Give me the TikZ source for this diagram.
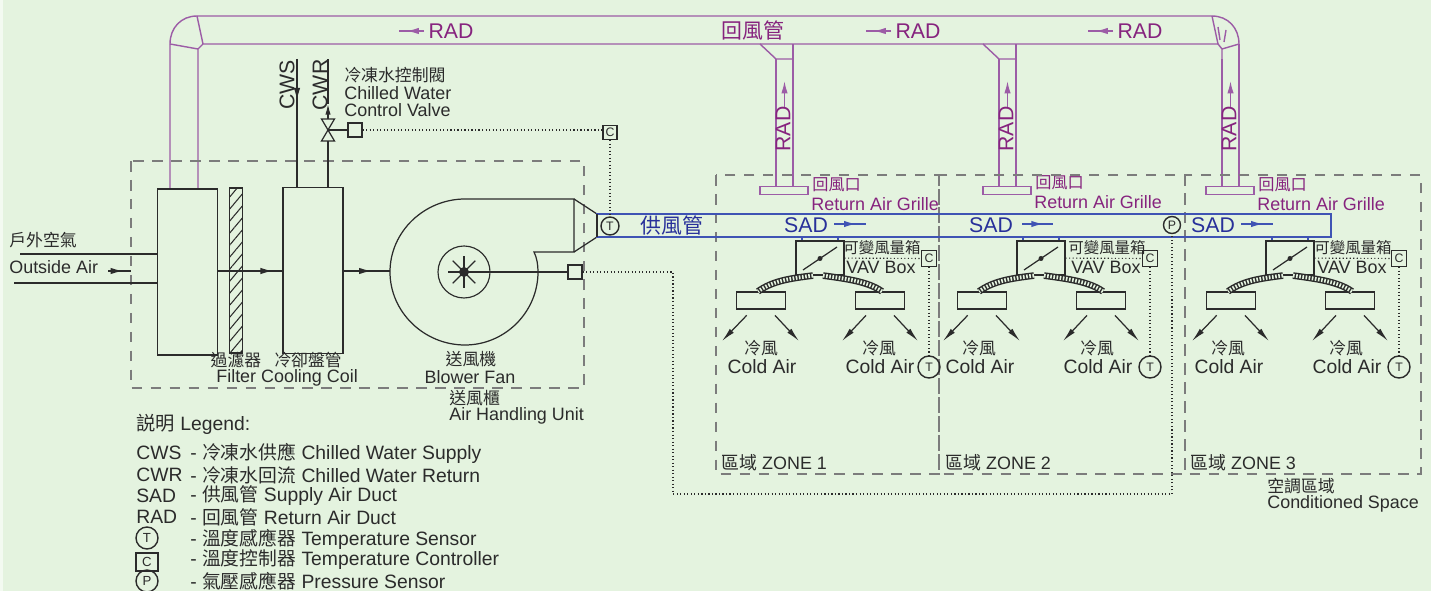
\documentclass[tikz,border=0pt]{standalone}
\usepackage{xcolor}
\usepackage{fontspec}
\setmainfont{Liberation Sans}
\newfontfamily\cjk{Noto Sans CJK TC}
\usetikzlibrary{arrows.meta,decorations.markings,patterns.meta}
\definecolor{panel}{HTML}{E4F3DF}
\definecolor{ink}{HTML}{2B2B2B}
\definecolor{zoneline}{HTML}{7C7C7C}
\definecolor{radline}{HTML}{9C5CA6}
\definecolor{radtext}{HTML}{86237E}
\definecolor{sadline}{HTML}{3F53B4}
\definecolor{sadtext}{HTML}{28309A}
\def\u{0.02cm}
\tikzset{
  every node/.style={inner sep=0pt,text=ink},
  small/.style={font=\fontsize{10.2}{12}\selectfont},
  mid/.style={font=\fontsize{11}{13}\selectfont},
  big/.style={font=\fontsize{12.1}{14}\selectfont},
  zhsmall/.style={font=\fontsize{9.6}{12}\selectfont\cjk},
  zhtiny/.style={font=\fontsize{8.8}{11}\selectfont\cjk},
  zhbig/.style={font=\fontsize{11.9}{14}\selectfont\cjk},
  tag/.style={font=\fontsize{7}{8}\selectfont},
  unit/.style={draw=ink,line width=0.65pt,minimum width=#1},
  sensor/.style={draw=ink,circle,line width=0.8pt,minimum size=#1},
  sq/.style={draw=ink,line width=0.6pt,minimum size=14*\u},
  zonebox/.style={draw=zoneline,line width=0.6pt,dash pattern=on 6pt off 4.8pt},
  radduct/.style={draw=radline,line width=0.8pt},
  sadduct/.style={draw=sadline,line width=0.9pt},
  signal/.style={draw=ink,line width=0.65pt,dash pattern=on 0.65pt off 1.35pt},
  pipe/.style={draw=ink,line width=0.7pt},
  hose/.style={preaction={draw=ink,line width=3.8pt},draw=panel,line width=2.2pt,dash pattern=on 0.9pt off 0.9pt},
  airout/.style={draw=ink,line width=0.7pt,-{Latex[length=8pt,width=3.2pt]},shorten <=8*\u},
  midtip/.style={decoration={markings,mark=at position #1 with {\arrow{Latex[length=7pt,width=3.6pt]}}},postaction=decorate},
}
\begin{document}
\begin{tikzpicture}[x=\u,y=-\u]
        \useasboundingbox (0,0) rectangle (1431,591);
        \fill[white!55!panel] (0,0) rectangle (1431,591);
        \fill[panel] (3,0) rectangle (1431,591);

        % return duct
        \draw[radduct] (170,189) -- (170,44) .. controls (170,28) and (181,16) .. (197,16) -- (1212,16)
          .. controls (1228,16) and (1239,28) .. (1239,44) -- (1239,187);
        \draw[radduct] (198,189) -- (198,49) -- (203,44) -- (1218,44) -- (1222,49) -- (1222,187);
        \draw[radduct] (197,16) -- (203,44) (198,49) -- (170,44);
        \draw[radduct] (1212,16) -- (1218,44) (1222,49) -- (1239,44);
        \draw[radduct] (1218,27) -- (1220,40) (1226,30) -- (1224,42);

        \begin{scope}[every node/.append style={big,text=radtext}]
          \node (rada) at (451,31) {RAD};
          \node (radb) at (918,31) {RAD};
          \node (radc) at (1140,31) {RAD};
          \node[zhbig] (radname) at (753,30) {回風管};
        \end{scope}
        \coordinate (ra1) at (424,31); \coordinate (ra2) at (399,31);
        \coordinate (rb1) at (891,31); \coordinate (rb2) at (866,31);
        \coordinate (rc1) at (1113,31); \coordinate (rc2) at (1088,31);
        \draw[draw=radline,line width=0.8pt,midtip=0.7] (ra1) -- (ra2);
        \draw[draw=radline,line width=0.8pt,midtip=0.7] (rb1) -- (rb2);
        \draw[draw=radline,line width=0.8pt,midtip=0.7] (rc1) -- (rc2);

        \foreach \z/\dx/\dy in {1/0/0,2/223/-2,3/446/0} {
          \begin{scope}[shift={(\dx,0)}]
            \node[draw=radline,line width=0.8pt,minimum width=48*\u,minimum height=8*\u] (grille\z) at (784,190.5) {};
            \draw[radduct] (776,186.5) -- (776,59) (793,186.5) -- (793,44);
            \node[big,text=radtext,rotate=90] (radup\z) at (783,129) {RAD};
            \coordinate (up\z a) at (784.5,107); \coordinate (up\z b) at (784.5,81);
            \draw[draw=radline,line width=0.8pt,-{Latex[length=7pt,width=3.6pt]}] (up\z a) -- (up\z b);
            \node[zhtiny,anchor=west,text=radtext,font=\fontsize{9.2}{12}\selectfont\cjk] (gzh\z) at (812,{185+\dy}) {回風口};
            \node[small,anchor=west,text=radtext] (gen\z) at (811,{204+\dy}) {Return Air Grille};
          \end{scope}
        }
        % take-offs
        \draw[radduct] (760,44) -- (776,59) -- (793,59);
        \draw[radduct] (983,44) -- (999,59) -- (1016,59);

        % zones and air handling unit frames
        \draw[zonebox] (131,161) rectangle (584,388);
        \draw[zonebox] (716,175) rectangle (939,474);
        \draw[zonebox] (939,175) rectangle (1185,474);
        \draw[zonebox] (1185,175) rectangle (1421,474);

        % air handling unit
        \begin{scope}[every node/.append style={unit=60*\u,minimum height=166*\u}]
          \node (mixbox) at (187.5,272) {};
          \node (coil) at (313,270.5) {};
        \end{scope}
        \node[draw=ink,line width=0.65pt,minimum width=13*\u,minimum height=165*\u,pattern={Lines[angle=50,distance=4.4pt,line width=0.6pt]},pattern color=ink] (filter) at (236,270.5) {};

        \coordinate (oa1) at (20,254); \coordinate (oa2) at (14,283);
        \coordinate (oa3) at (108,271); \coordinate (oa4) at (131,271);
        \draw[pipe] (oa1) -- (oa1-|mixbox.west);
        \draw[pipe] (oa2) -- (oa2-|mixbox.west);
        \draw[pipe,midtip=0.65] (oa3) -- (oa4);
        \draw[pipe,midtip=0.85] (mixbox.east|-0,271) -- (coil.west|-0,271);
        \coordinate (fanin) at (390,271);
        \draw[pipe,midtip=0.6] (coil.east|-fanin) -- (fanin);

        \coordinate (cwstop) at (297,59); \coordinate (cwrtop) at (328,59);
        \coordinate (cwsfoot) at (297,188); \coordinate (cwrfoot) at (328,188);
        \coordinate (valvetop) at (328,119); \coordinate (valvefoot) at (328,141);
        \draw[pipe,midtip=0.32] (cwstop) -- (cwsfoot);
        \draw[pipe,-{Latex[length=6pt,width=3pt]}] (valvetop) -- (328,104);
        \draw[pipe] (328,104) -- (cwrtop);
        \draw[pipe] (valvefoot) -- (cwrfoot);
        \draw[pipe] (321.5,119) -- (334.5,119) -- (321.5,141) -- (334.5,141) -- cycle;
        \node[sq] (valvesq) at (355,130) {};
        \draw[pipe] (328,130) -- (valvesq);
        \node[rotate=90,big] (cws) at (287,85) {CWS};
        \node[rotate=90,big] (cwr) at (320,85) {CWR};

        \draw[pipe] (574,199) -- (465,199) .. controls (425,199) and (390,231) .. (390,272)
          .. controls (390,312) and (424,345) .. (465,345) .. controls (505,345) and (538,312) .. (538,272)
          .. controls (538,265) and (537,258) .. (534,252) -- (574,252) -- cycle;
        \draw[pipe] (574,199) -- (597,214) (597,237) -- (574,252);
        \node[sensor=52*\u,line width=0.65pt] (wheel) at (464,272) {};
        \node[circle,fill=ink,minimum size=10*\u] (hub) at (464,272) {};
        \foreach \a in {0,45,...,315}
          \draw[pipe] (hub.center) -- ++(\a:16);
        \node[sq] (fansq) at (575,272) {};
        \draw[pipe] (hub) -- (fansq);

        % supply duct
        \node[sadduct,minimum width=734*\u,minimum height=23*\u] (sad) at (964,225.5) {};
        \draw[pipe] (597,214) -- (597,237);
        \node[sensor=18*\u,tag] (tsup) at (610,226) {T};
        \node[sensor=17*\u,tag] (psens) at (1172,225) {P};
        \begin{scope}[every node/.append style={big,text=sadtext}]
          \node[zhbig] (sadname) at (672,225) {供風管};
          \node (sada) at (806,225) {SAD};
          \node (sadb) at (991,225) {SAD};
          \node (sadc) at (1213,225) {SAD};
        \end{scope}
        \coordinate (sa1) at (834,224); \coordinate (sa2) at (866,224);
        \coordinate (sb1) at (1022,224); \coordinate (sb2) at (1053,224);
        \coordinate (sc1) at (1241,224); \coordinate (sc2) at (1273,224);
        \draw[draw=sadline,line width=0.9pt,midtip=0.7] (sa1) -- (sa2);
        \draw[draw=sadline,line width=0.9pt,midtip=0.7] (sb1) -- (sb2);
        \draw[draw=sadline,line width=0.9pt,midtip=0.7] (sc1) -- (sc2);

        % one zone
        \foreach \z/\dx/\tx/\vx in {1/0/0/0,2/221/-3/4,3/470/-3/1} {
          \begin{scope}[shift={(\dx,0)}]
            \draw[sadduct] (802,237) -- (802,241) (838,237) -- (838,241);
            \node[unit=48*\u,minimum height=34*\u] (vav\z) at (820,258) {};
            \coordinate (blade\z a) at (803,270); \coordinate (blade\z b) at (837,247);
            \draw[pipe] (blade\z a) -- (blade\z b);
            \node[circle,fill=ink,minimum size=5*\u] (bladepin\z) at (820,258.5) {};
            \node[unit=49*\u,minimum height=17*\u] (dl\z) at (761,300.5) {};
            \node[unit=49*\u,minimum height=17*\u] (dr\z) at (880,300.5) {};
            \draw[hose] ([xshift=-7*\u]vav\z.south) .. controls +(-25,3) and +(14,-10) .. ([xshift=-3*\u]dl\z.north);
            \draw[hose] ([xshift=3*\u]vav\z.south) .. controls +(22,3) and +(-14,-10) .. ([xshift=2*\u]dr\z.north);
            \coordinate (ta\z) at (722,341); \coordinate (tb\z) at (799,341);
            \coordinate (tc\z) at (842,341); \coordinate (td\z) at (918,341);
            \draw[airout] (dl\z) -- (ta\z);
            \draw[airout] (dl\z) -- (tb\z);
            \draw[airout] (dr\z) -- (tc\z);
            \draw[airout] (dr\z) -- (td\z);
            \node[sq,tag,minimum width=15*\u,minimum height=16*\u] (ctl\z) at (929,258.5) {C};
            \node[sensor=22*\u,tag] (tz\z) at (929,367) {T};
            \draw[signal] (vav\z) -- (ctl\z);
            \draw[signal] (ctl\z) -- (tz\z);
            \node[zhtiny] (vavzh\z) at ({882+\vx},248) {可變風量箱};
            \node[small] (vaven\z) at ({881+\vx},267.5) {VAV Box};
            \node[zhsmall] (colzha\z) at ({761+\tx},348) {冷風};
            \node[mid] (colena\z) at ({762+\tx},367) {Cold Air};
            \node[zhsmall] (colzhb\z) at ({879+\tx},348) {冷風};
            \node[mid] (colenb\z) at ({880+\tx},367) {Cold Air};
          \end{scope}
        }

        % control wiring
        \node[sq,tag] (ctlsup) at (610,132.5) {C};
        \coordinate (wa) at (673,272); \coordinate (wb) at (673,494); \coordinate (wc) at (1172,494);
        \draw[signal] (valvesq) -- (ctlsup.west|-valvesq);
        \draw[signal] (ctlsup) -- (tsup);
        \draw[signal] (fansq) -- (wa) -- (wb) -- (wc) -- (psens);

        % labels
        \begin{scope}[every node/.append style={small,anchor=west}]
          \node[zhsmall] (oazh) at (9,240) {戶外空氣};
          \node (oaen) at (9,267) {Outside Air};
          \node[zhsmall] (valvezh) at (344,75) {冷凍水控制閥};
          \node (valvea) at (344,93) {Chilled Water};
          \node (valveb) at (344,110) {Control Valve};
          \node (filten) at (216,378) {Filter Cooling Coil};
          \node[zhsmall] (ahuzh) at (449,398) {送風櫃};
          \node (ahuen) at (449,416) {Air Handling Unit};
          \node (zonea) at (721,463) {{\cjk 區域} ZONE 1};
          \node (zoneb) at (945,463) {{\cjk 區域} ZONE 2};
          \node (zonec) at (1190,463) {{\cjk 區域} ZONE 3};
          \node[zhsmall] (spacezh) at (1267,486) {空調區域};
          \node (spaceen) at (1267,504) {Conditioned Space};
        \end{scope}
        \begin{scope}[every node/.append style={zhsmall}]
          \node (filtzh) at (236,360) {過濾器};
          \node (coilzh) at (308,360) {冷卻盤管};
          \node (fanzh) at (471,359) {送風機};
        \end{scope}
        \node[small] (fanen) at (470,377) {Blower Fan};

        % legend
        \begin{scope}[every node/.append style={mid,anchor=west}]
          \node (legend) at (136,424) {{\cjk 説明} Legend:};
          \node (kcws) at (136,453) {CWS};
          \node (kcwr) at (136,475) {CWR};
          \node (ksad) at (136,496) {SAD};
          \node (krad) at (136,517) {RAD};
          \node (tcws) at (190,453) {-\ {\cjk\fontsize{10.7}{13}\selectfont 冷凍水供應} Chilled Water Supply};
          \node (tcwr) at (190,475) {-\ {\cjk\fontsize{10.7}{13}\selectfont 冷凍水回流} Chilled Water Return};
          \node (tsad) at (190,496) {-\ {\cjk\fontsize{10.7}{13}\selectfont 供風管} Supply Air Duct};
          \node (trad) at (190,517) {-\ {\cjk\fontsize{10.7}{13}\selectfont 回風管} Return Air Duct};
          \node (ttmp) at (190,539) {-\ {\cjk\fontsize{10.7}{13}\selectfont 溫度感應器} Temperature Sensor};
          \node (tctl) at (190,560) {-\ {\cjk\fontsize{10.7}{13}\selectfont 溫度控制器} Temperature Controller};
          \node (tprs) at (190,581) {-\ {\cjk\fontsize{10.7}{13}\selectfont 氣壓感應器} Pressure Sensor};
        \end{scope}
        \begin{scope}[every node/.append style={font=\fontsize{7.5}{9}\selectfont}]
          \node[sensor=22*\u] (kt) at (147,538) {T};
          \node[draw=ink,line width=0.65pt,minimum width=22*\u,minimum height=18*\u] (kc) at (147,562) {C};
          \node[sensor=22*\u] (kp) at (147,581) {P};
        \end{scope}
      \end{tikzpicture}
\end{document}
